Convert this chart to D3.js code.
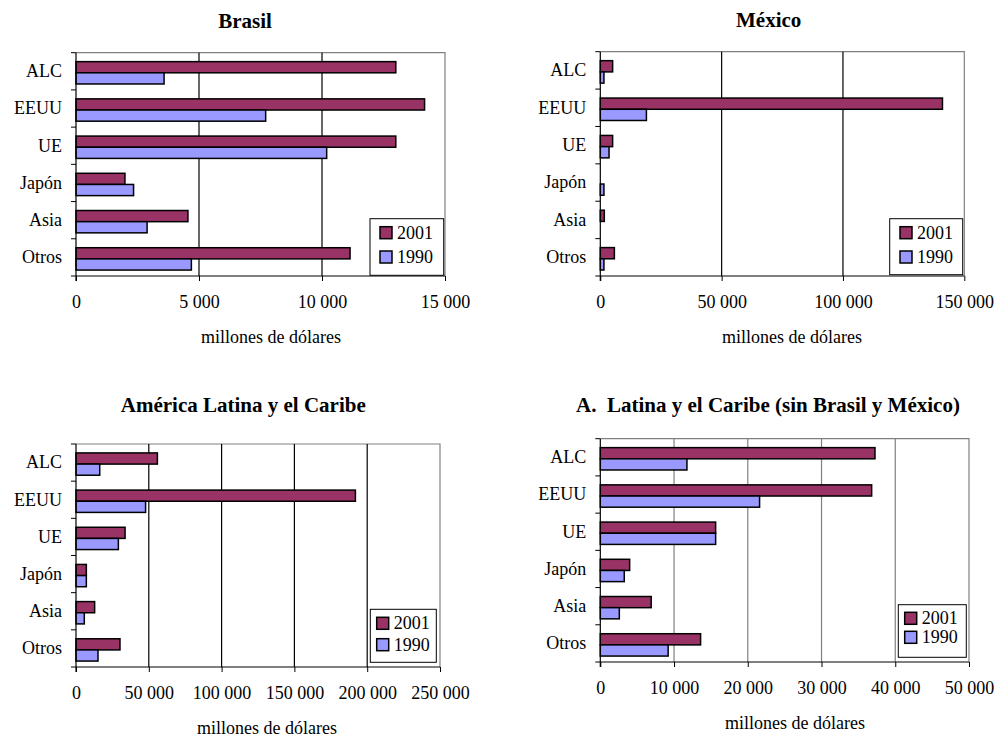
<!DOCTYPE html>
<html>
<head>
<meta charset="utf-8">
<script src="https://cdn.jsdelivr.net/npm/d3@7"></script>
<style>
  html, body { margin: 0; padding: 0; background: #ffffff; }
  svg { display: block; font-family: "Liberation Serif", "Times New Roman", serif; }
</style>
</head>
<body>
<svg id="chart" width="998" height="736"></svg>
<script>
// Destinations and series
const categories = ["ALC", "EEUU", "UE", "Japón", "Asia", "Otros"];
const years = ["2001", "1990"];

// Exports by destination, millones de dólares
const brasil2001 = [13000, 14170, 13000, 1990, 4550, 11140];
const brasil1990 = [3580, 7710, 10190, 2340, 2890, 4690];

const mexico2001 = [5080, 141000, 5080, 0, 1650, 5800];
const mexico1990 = [1500, 19000, 3600, 1500, 0, 1500];

const alc2001 = [55900, 191900, 33700, 7100, 12800, 30200];
const alc1990 = [16300, 47800, 29100, 7100, 5700, 15100];

const resto2001 = [37250, 36800, 15640, 3980, 6900, 13600];
const resto1990 = [11750, 21600, 15640, 3250, 2580, 9200];

// Axis tick values
const ticksBrasil = [0, 5000, 10000, 15000];
const ticksMexico = [0, 50000, 100000, 150000];
const ticksAlc = [0, 50000, 100000, 150000, 200000, 250000];
const ticksResto = [0, 10000, 20000, 30000, 40000, 50000];

const titles = ["Brasil", "México", "América Latina y el Caribe", "A.  Latina y el Caribe (sin Brasil y México)"];
const axisTitle = "millones de dólares";

const colors = { "2001": "#993366", "1990": "#9999FF" };

const fmt = d3.formatLocale({ decimal: ",", thousands: " ", grouping: [3], currency: ["", ""] }).format(",");

// Panel layout
const panels = [
  { title: titles[0], s2001: brasil2001, s1990: brasil1990, ticks: ticksBrasil,
    x0: 76, x1: 445, y0: 52.7, y1: 276, grid: "#000000",
    titleX: 245, titleY: 27.5, axisTitleX: 271, axisTitleY: 343,
    legend: { x: 370, y: 218.7, w: 73.7, h: 56.6, sx: 380, sy: [226.7, 251] } },
  { title: titles[1], s2001: mexico2001, s1990: mexico1990, ticks: ticksMexico,
    x0: 600.3, x1: 964.3, y0: 51.7, y1: 276, grid: "#000000",
    titleX: 768.7, titleY: 26.5, axisTitleX: 792, axisTitleY: 343,
    legend: { x: 889.7, y: 218.7, w: 73, h: 56, sx: 900, sy: [226.7, 251] } },
  { title: titles[2], s2001: alc2001, s1990: alc1990, ticks: ticksAlc,
    x0: 76, x1: 440, y0: 444, y1: 667, grid: "#000000",
    titleX: 243.3, titleY: 412.3, axisTitleX: 267, axisTitleY: 733.5,
    legend: { x: 370.3, y: 609.3, w: 66, h: 53, sx: 376.7, sy: [617.3, 638.7] } },
  { title: titles[3], s2001: resto2001, s1990: resto1990, ticks: ticksResto,
    x0: 600.3, x1: 969, y0: 438.7, y1: 662, grid: "#808080",
    titleX: 768, titleY: 412.3, axisTitleX: 795, axisTitleY: 729,
    legend: { x: 898.3, y: 604.7, w: 68, h: 52.6, sx: 904.7, sy: [612.3, 631.3] } }
];

const svg = d3.select("#chart");
svg.append("rect").attr("width", 998).attr("height", 736).attr("fill", "#ffffff");

panels.forEach(p => {
  const g = svg.append("g");
  const ticks = p.ticks;

  const x = d3.scaleLinear().domain([0, ticks[ticks.length - 1]]).range([p.x0, p.x1]);
  const y = d3.scaleBand().domain(categories).range([p.y0, p.y1]).paddingInner(0.4).paddingOuter(0.2);
  const yInner = d3.scaleBand().domain(years).range([0, y.bandwidth()]);
  const step = y.step();

  // Plot frame (top and right) in gray
  g.append("path")
    .attr("d", `M${p.x0},${p.y0}H${p.x1}V${p.y1}`)
    .attr("fill", "none").attr("stroke", "#808080").attr("stroke-width", 1.2);

  // Vertical gridlines
  g.selectAll("line.grid").data(ticks.filter(t => t > 0 && t < ticks[ticks.length - 1]))
    .enter().append("line").attr("class", "grid")
    .attr("x1", d => x(d)).attr("x2", d => x(d))
    .attr("y1", p.y0).attr("y2", p.y1)
    .attr("stroke", p.grid).attr("stroke-width", 1.2);

  // Bars
  const rows = categories.map((c, i) => ({ c, vals: [
    { year: "2001", v: p.s2001[i] }, { year: "1990", v: p.s1990[i] }] }));
  const grp = g.selectAll("g.cat").data(rows).enter().append("g")
    .attr("transform", d => `translate(0,${y(d.c) + 1.5})`);
  grp.selectAll("rect").data(d => d.vals.filter(b => b.v > 0)).enter().append("rect")
    .attr("x", x(0))
    .attr("y", d => yInner(d.year))
    .attr("width", d => x(d.v) - x(0))
    .attr("height", yInner.bandwidth())
    .attr("fill", d => colors[d.year])
    .attr("stroke", "#000000").attr("stroke-width", 1.5);

  // Category axis: labels at band centres, ticks on the category boundaries
  const yAxis = g.append("g").attr("transform", `translate(${p.x0},0)`)
    .call(d3.axisLeft(y).tickSize(0).tickPadding(14));
  yAxis.select(".domain").remove();
  yAxis.selectAll("text").attr("font-size", 18).attr("fill", "#000000")
    .attr("font-family", "Liberation Serif, Times New Roman, serif");
  const bounds = d3.range(categories.length + 1).map(i => p.y0 + i * step);
  g.selectAll("line.ctick").data(bounds).enter().append("line")
    .attr("x1", p.x0 - 5).attr("x2", p.x0).attr("y1", d => d).attr("y2", d => d)
    .attr("stroke", "#000000").attr("stroke-width", 1);

  // Value axis
  const xAxis = g.append("g").attr("transform", `translate(0,${p.y1})`)
    .call(d3.axisBottom(x).tickValues(ticks).tickFormat(fmt).tickSize(5).tickPadding(14));
  xAxis.select(".domain").attr("d", `M${p.x0},0H${p.x1}`).attr("stroke", "#000000");
  xAxis.selectAll(".tick line").attr("stroke", "#000000");
  xAxis.selectAll("text").attr("font-size", 18).attr("fill", "#000000")
    .attr("font-family", "Liberation Serif, Times New Roman, serif");

  // Left axis line
  g.append("line").attr("x1", p.x0).attr("x2", p.x0).attr("y1", p.y0).attr("y2", p.y1 + 5)
    .attr("stroke", "#000000").attr("stroke-width", 1.2);

  // Titles
  g.append("text").attr("x", p.titleX).attr("y", p.titleY)
    .attr("text-anchor", "middle").attr("font-size", 21).attr("font-weight", "bold")
    .style("white-space", "pre").attr("xml:space", "preserve")
    .text(p.title);
  g.append("text").attr("x", p.axisTitleX).attr("y", p.axisTitleY)
    .attr("text-anchor", "middle").attr("font-size", 18)
    .text(axisTitle);

  // Legend
  const L = p.legend;
  g.append("rect").attr("x", L.x).attr("y", L.y).attr("width", L.w).attr("height", L.h)
    .attr("fill", "#ffffff").attr("stroke", "#000000").attr("stroke-width", 1);
  years.forEach((yr, i) => {
    g.append("rect").attr("x", L.sx).attr("y", L.sy[i]).attr("width", 12).attr("height", 12)
      .attr("fill", colors[yr]).attr("stroke", "#000000").attr("stroke-width", 1.5);
    g.append("text").attr("x", L.sx + 17).attr("y", L.sy[i] + 12)
      .attr("font-size", 18).text(yr);
  });
});
</script>
</body>
</html>
